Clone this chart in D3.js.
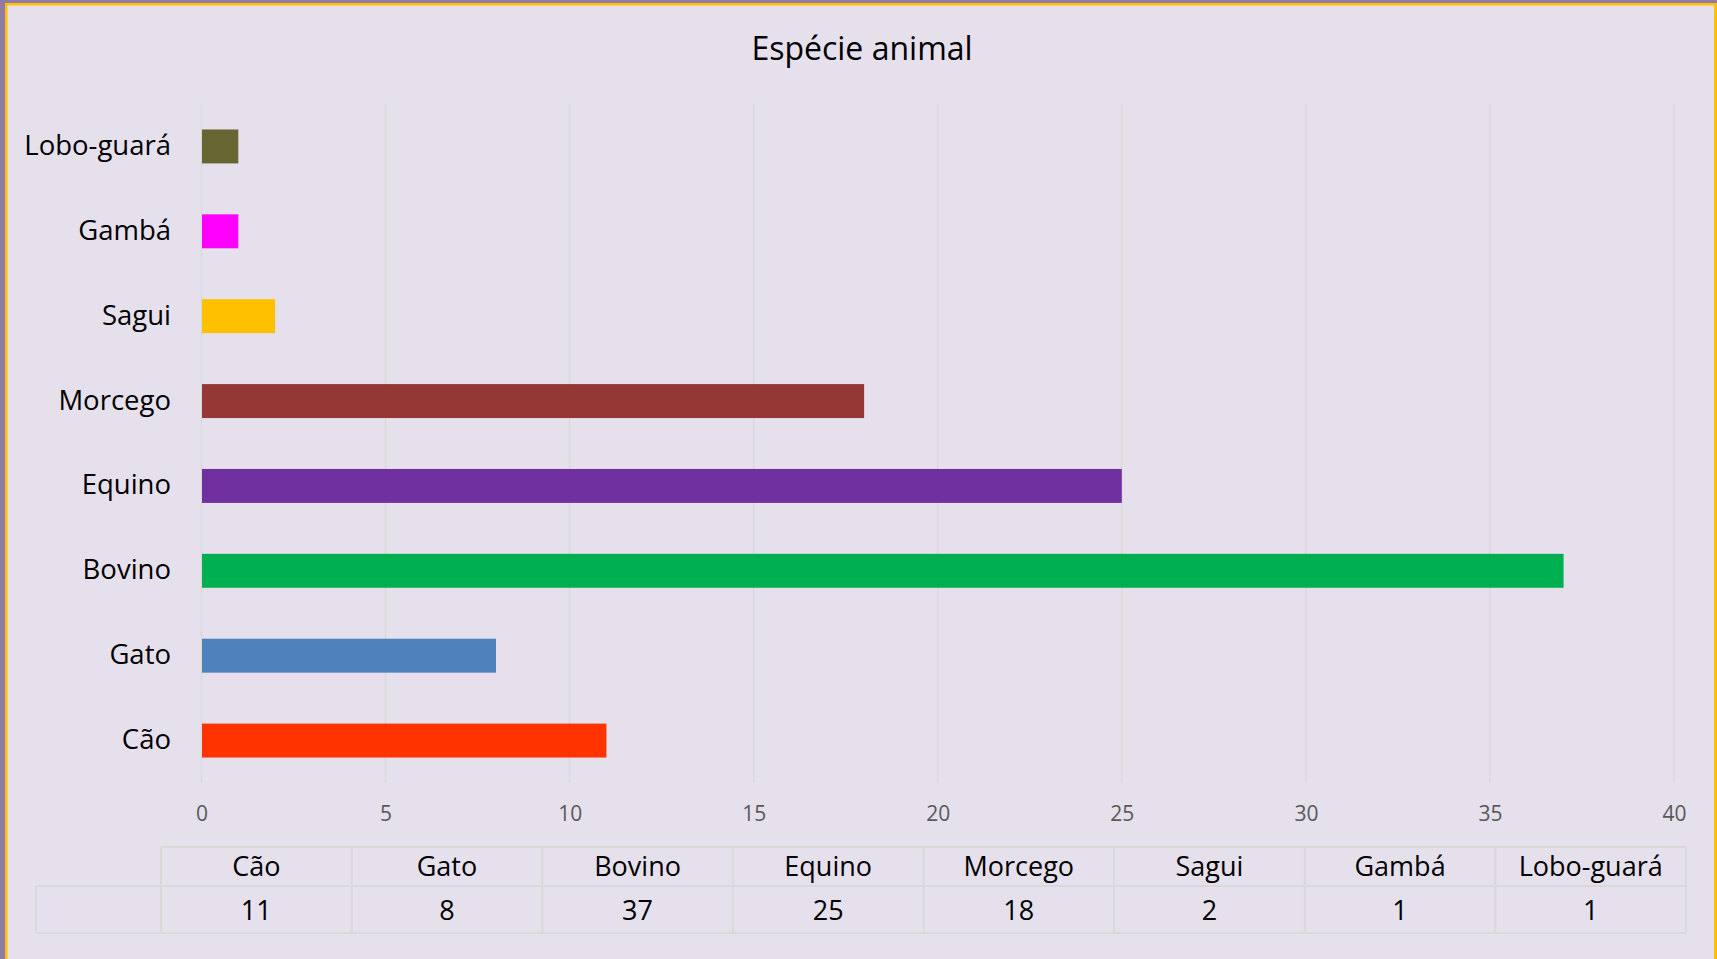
<!DOCTYPE html>
<html>
<head>
<meta charset="utf-8">
<script src="https://cdn.jsdelivr.net/npm/d3@7"></script>
<style>
  html, body { margin: 0; padding: 0; background: #E5E0EC; }
  svg { display: block; }
</style>
</head>
<body>
<svg id="chart" width="1717" height="959"></svg>
<script>
const title = "Espécie animal";
const categories = ["Cão", "Gato", "Bovino", "Equino", "Morcego", "Sagui", "Gambá", "Lobo-guará"];
const values = [11, 8, 37, 25, 18, 2, 1, 1];
const colors = ["#FF3300", "#4F81BD", "#00B050", "#7030A0", "#953735", "#FFC000", "#FF00FF", "#676633"];
const xTicks = [0, 5, 10, 15, 20, 25, 30, 35, 40];

const FONT = "'Open Sans', 'Noto Sans', sans-serif";
const svg = d3.select("#chart");
const W = 1717, H = 959;

// background and frame
svg.append("rect").attr("width", W).attr("height", H).attr("fill", "#E5E0EC");
svg.append("rect").attr("x", 0).attr("y", 0).attr("width", W).attr("height", 3).attr("fill", "#8E7CA6");
svg.append("rect").attr("x", 0).attr("y", 0).attr("width", 5).attr("height", H).attr("fill", "#8E7CA6");
svg.append("rect").attr("x", 5).attr("y", 3).attr("width", W - 5).attr("height", 2.5).attr("fill", "#FFC000");
svg.append("rect").attr("x", 5).attr("y", 3).attr("width", 2.5).attr("height", H - 3).attr("fill", "#FFC000");
svg.append("rect").attr("x", W - 3).attr("y", 3).attr("width", 3).attr("height", H - 3).attr("fill", "#FFC000");

// title
svg.append("text").attr("x", 862).attr("y", 47).attr("text-anchor", "middle")
  .attr("dominant-baseline", "central").attr("font-family", FONT).attr("font-size", 32)
  .attr("fill", "#000").text(title);

const plot = { left: 201.5, right: 1674, top: 104, bottom: 783 };
const x = d3.scaleLinear().domain([0, 40]).range([plot.left, plot.right]);
const y = d3.scaleBand().domain(categories.slice().reverse()).range([plot.top, plot.bottom])
  .paddingInner(0.6).paddingOuter(0.3);

// gridlines
svg.append("g").selectAll("line").data(xTicks).join("line")
  .attr("x1", d => x(d)).attr("x2", d => x(d))
  .attr("y1", plot.top).attr("y2", plot.bottom)
  .attr("stroke", "#D9D9D9").attr("stroke-width", 1.5);

// x axis labels
const xAxis = d3.axisBottom(x).tickValues(xTicks).tickSize(0).tickPadding(0);
const gx = svg.append("g").attr("transform", `translate(0, ${plot.bottom + 30})`).call(xAxis);
gx.select(".domain").remove();
gx.selectAll("text").attr("font-family", FONT).attr("font-size", 21).attr("fill", "#595959")
  .attr("dy", null).attr("dominant-baseline", "central");

// y axis labels
const yAxis = d3.axisLeft(y).tickSize(0).tickPadding(0);
const gy = svg.append("g").attr("transform", `translate(171, -2)`).call(yAxis);
gy.select(".domain").remove();
gy.selectAll("text").attr("font-family", FONT).attr("font-size", 27.5).attr("fill", "#000")
  .attr("dy", null).attr("dominant-baseline", "central");

// bars
svg.append("g").selectAll("rect").data(categories).join("rect")
  .attr("x", x(0) + 0.5)
  .attr("y", d => y(d))
  .attr("width", (d, i) => x(values[i]) - x(0) - 0.5)
  .attr("height", y.bandwidth())
  .attr("fill", (d, i) => colors[i]);

// data table
const tbl = { left: 161, right: 1686, top: 847, mid: 886, bottom: 933, keyLeft: 36 };
const cx = d3.scaleBand().domain(categories).range([tbl.left, tbl.right]);
const tg = svg.append("g");
const lineColor = "#D9D9D9";
const lw = 2;
function hline(x1, x2, yy) { tg.append("line").attr("x1", x1).attr("x2", x2).attr("y1", yy).attr("y2", yy).attr("stroke", lineColor).attr("stroke-width", lw); }
function vline(xx, y1, y2) { tg.append("line").attr("x1", xx).attr("x2", xx).attr("y1", y1).attr("y2", y2).attr("stroke", lineColor).attr("stroke-width", lw); }
hline(tbl.left, tbl.right, tbl.top);
hline(tbl.keyLeft, tbl.right, tbl.mid);
hline(tbl.keyLeft, tbl.right, tbl.bottom);
vline(tbl.keyLeft, tbl.mid, tbl.bottom);
categories.forEach(c => vline(cx(c), tbl.top, tbl.bottom));
vline(tbl.right, tbl.top, tbl.bottom);

tg.selectAll("text.h").data(categories).join("text").attr("class", "h")
  .attr("x", d => cx(d) + cx.bandwidth() / 2).attr("y", (tbl.top + tbl.mid) / 2 - 1)
  .attr("text-anchor", "middle").attr("dominant-baseline", "central")
  .attr("font-family", FONT).attr("font-size", 27).attr("fill", "#000").text(d => d);
tg.selectAll("text.v").data(categories).join("text").attr("class", "v")
  .attr("x", d => cx(d) + cx.bandwidth() / 2).attr("y", (tbl.mid + tbl.bottom) / 2)
  .attr("text-anchor", "middle").attr("dominant-baseline", "central")
  .attr("font-family", FONT).attr("font-size", 27).attr("fill", "#000").text((d, i) => values[i]);
</script>
</body>
</html>
